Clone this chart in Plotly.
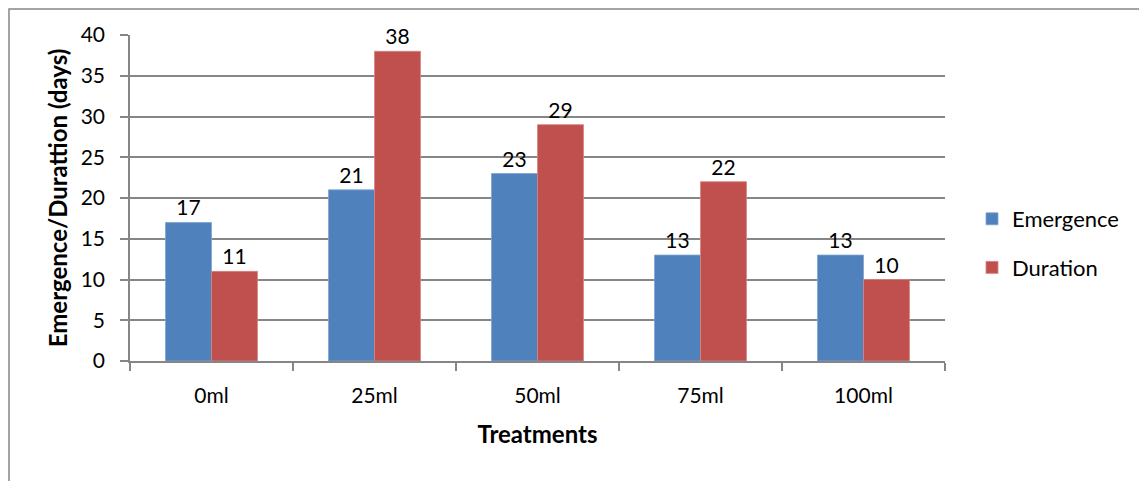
import plotly.graph_objects as go

categories = ["0ml", "25ml", "50ml", "75ml", "100ml"]
emergence = [17, 21, 23, 13, 13]
duration = [11, 38, 29, 22, 10]
y_ticks = [0, 5, 10, 15, 20, 25, 30, 35, 40]

FONT = "Lato"
W, H = 1147, 481
# screen-space plot area (the page body has an 8px margin)
SX0, SX1, SY0, SY1 = 130, 945, 35, 361
pw, ph = SX1 - SX0, SY1 - SY0
BODY = 8
L, T = SX0 - BODY, SY0 - BODY
R, B = W - L - pw, H - T - ph

def px_x(p):
    return (p - SX0) / pw

def px_y(p):
    return (SY1 - p) / ph

fig = go.Figure()
fig.add_trace(go.Bar(
    x=categories, y=emergence, name="Emergence",
    marker=dict(color="#4F81BD", line=dict(color="#7FA3D0", width=0.8)),
    text=[str(v) for v in emergence], textposition="outside",
    textfont=dict(family=FONT, size=21, color="#000000"),
    cliponaxis=False, legendgroup="a",
))
fig.add_trace(go.Bar(
    x=categories, y=duration, name="Duration",
    marker=dict(color="#C0504D", line=dict(color="#D48482", width=0.8)),
    text=[str(v) for v in duration], textposition="outside",
    textfont=dict(family=FONT, size=21, color="#000000"),
    cliponaxis=False, legendgroup="b",
))

fig.add_shape(type="rect", xref="paper", yref="paper",
              x0=px_x(BODY + 1), x1=px_x(1170), y0=px_y(BODY + 1), y1=px_y(500),
              line=dict(color="#868686", width=1.5), fillcolor="rgba(0,0,0,0)", layer="below")

fig.update_layout(
    width=W, height=H,
    margin=dict(l=L, r=R, t=T, b=B, pad=0),
    paper_bgcolor="white", plot_bgcolor="white",
    barmode="group", bargap=0.436, bargroupgap=0,
    font=dict(family=FONT, size=21, color="#000000"),
    showlegend=True,
    legend=dict(x=px_x(972), y=px_y(198), xanchor="left", yanchor="top",
                font=dict(family=FONT, size=22), traceorder="grouped",
                tracegroupgap=17, itemwidth=30, bgcolor="rgba(0,0,0,0)"),
)
fig.update_xaxes(
    type="category", showline=True, linecolor="#868686", linewidth=1.5,
    ticks="outside", tickson="boundaries", ticklen=8, tickcolor="#868686", tickwidth=1.5,
    tickfont=dict(family=FONT, size=21), showgrid=False, ticklabelstandoff=15,
    title=dict(text="<b>Treatments</b>", font=dict(family=FONT, size=24), standoff=20),
)
fig.update_yaxes(
    range=[0, 40], tickvals=y_ticks, showline=True, linecolor="#868686", linewidth=1.5,
    ticks="outside", ticklen=8, tickcolor="#868686", tickwidth=1.5,
    showgrid=True, gridcolor="#868686", gridwidth=1.5, ticklabelstandoff=11,
    tickfont=dict(family=FONT, size=21),
    title=dict(text="<b>Emergence/Durattion (days)</b>", font=dict(family=FONT, size=24), standoff=6),
    zeroline=False,
)

fig.write_html("out.html")
